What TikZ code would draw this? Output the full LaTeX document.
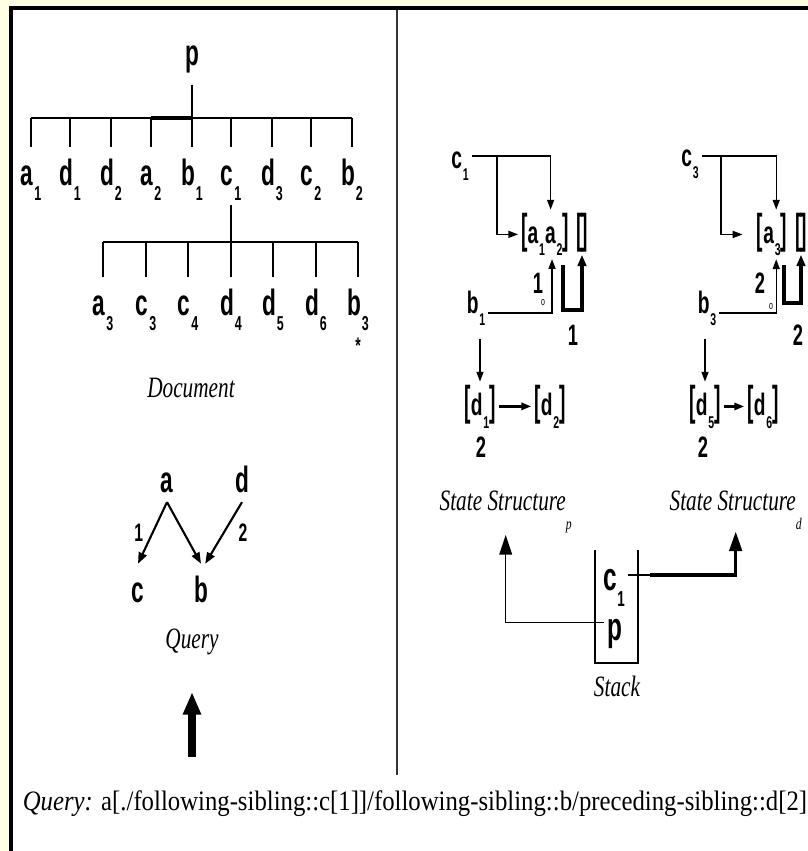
\documentclass[tikz,border=0pt]{standalone}
\usepackage{fontspec}
\usepackage{graphicx}
\usepackage{xcolor}
\definecolor{PageCream}{HTML}{FFFFE4}
\newfontfamily\narrowsans[FakeStretch=0.62]{Liberation Sans}
\newfontfamily\serifcond[FakeStretch=0.72]{Liberation Serif}
\newfontfamily\serifline[FakeStretch=0.88]{Liberation Serif}
\newcommand\sub[2]{#1\kern.6pt\raisebox{-.42em}{\scalebox{.55}{#2}}}
\newcommand\sqbl{\scalebox{1}[1.35]{[}}
\newcommand\sqbr{\scalebox{1}[1.35]{]}}
\usepackage{tikz}
\usetikzlibrary{arrows.meta,positioning,calc}

\begin{document}
\begin{tikzpicture}[
  x=0.025cm,y=-0.025cm,
  leaf/.style={font=\narrowsans\bfseries\fontsize{26}{26}\selectfont,anchor=base,text height=23pt,text depth=10pt,inner ysep=4pt,inner xsep=1pt},
  qnode/.style={leaf,text depth=3pt},
  sl/.style={font=\narrowsans\bfseries\fontsize{22}{22}\selectfont,anchor=base,inner sep=2pt},
  num/.style={font=\narrowsans\bfseries\fontsize{21}{21}\selectfont,anchor=base,inner sep=1pt},
  elbl/.style={font=\narrowsans\bfseries\fontsize{18}{18}\selectfont,inner sep=1pt},
  title/.style={font=\serifcond\itshape\fontsize{21}{21}\selectfont,anchor=base,inner sep=1pt},
  tline/.style={line width=1.2pt},
  arr/.style={-{Triangle[length=7pt,width=5pt]},line width=1pt},
  qarr/.style={-{Triangle[length=8pt,width=6pt]},line width=1.5pt},
  hookarr/.style={-{Triangle[length=8pt,width=6pt]},line width=2.4pt},
  uparr/.style={-{Triangle[length=14pt,width=9pt]}},
  bigarr/.style={-{Triangle[length=16pt,width=12pt]},line width=5.5pt}
]
  \useasboundingbox (0,0) rectangle (808,851);
  \clip (0,0) rectangle (808,851);
  \fill[PageCream] (0,0) rectangle (808,851);
  \draw[line width=2.2pt,fill=white] (11,8) rectangle (830,880);

  % document tree
  \node[leaf] (p) at (192,65) {p};
  \coordinate (top) at (192,118);
  \node[leaf] (a1) at (31,185) {\sub{a}{1}};
  \node[leaf] (d1) at (70,185) {\sub{d}{1}};
  \node[leaf] (d2) at (111,185) {\sub{d}{2}};
  \node[leaf] (a2) at (151,185) {\sub{a}{2}};
  \node[leaf] (b1) at (192,185) {\sub{b}{1}};
  \node[leaf] (c1) at (231,185) {\sub{c}{1}};
  \node[leaf] (d3) at (272,185) {\sub{d}{3}};
  \node[leaf] (c2) at (311,185) {\sub{c}{2}};
  \node[leaf] (b2) at (352,185) {\sub{b}{2}};
  \draw[tline] (p.south) -- (top);
  \draw[tline] (a1.north |- top) -- (b2.north |- top);
  \draw[line width=3pt] (a2.north |- top) -- (top);
  \draw[tline] (a1.north) -- (a1.north |- top);
  \draw[tline] (d1.north) -- (d1.north |- top);
  \draw[tline] (d2.north) -- (d2.north |- top);
  \draw[tline] (a2.north) -- (a2.north |- top);
  \draw[tline] (b1.north) -- (b1.north |- top);
  \draw[tline] (c1.north) -- (c1.north |- top);
  \draw[tline] (d3.north) -- (d3.north |- top);
  \draw[tline] (c2.north) -- (c2.north |- top);
  \draw[tline] (b2.north) -- (b2.north |- top);

  \coordinate (mid) at (231,242);
  \node[leaf] (a3) at (103,315) {\sub{a}{3}};
  \node[leaf] (c3) at (146,315) {\sub{c}{3}};
  \node[leaf] (c4) at (188,315) {\sub{c}{4}};
  \node[leaf] (d4) at (231,315) {\sub{d}{4}};
  \node[leaf] (d5) at (273,315) {\sub{d}{5}};
  \node[leaf] (d6) at (316,315) {\sub{d}{6}};
  \node[leaf] (b3) at (358,315) {\sub{b}{3}};
  \draw[tline] (c1.south) -- (mid);
  \draw[tline] (a3.north |- mid) -- (b3.north |- mid);
  \draw[tline] (a3.north) -- (a3.north |- mid);
  \draw[tline] (c3.north) -- (c3.north |- mid);
  \draw[tline] (c4.north) -- (c4.north |- mid);
  \draw[tline] (d4.north) -- (d4.north |- mid);
  \draw[tline] (d5.north) -- (d5.north |- mid);
  \draw[tline] (d6.north) -- (d6.north |- mid);
  \draw[tline] (b3.north) -- (b3.north |- mid);
  \node[font=\narrowsans\bfseries\fontsize{16}{16}\selectfont,inner sep=0pt,below=2pt of b3] (mark) {*};
  \node[title] (doc) at (191,397) {Document};

  % query graph
  \node[qnode] (qa) at (167,492) {a};
  \node[qnode] (qd) at (242,492) {d};
  \node[qnode] (qc) at (138,602) {c};
  \node[qnode] (qb) at (201,602) {b};
  \draw[qarr] (qa.south) -- node[elbl,midway,left=5pt] {1} (qc.north);
  \draw[qarr] (qa.south) -- (qb.north);
  \draw[qarr] (qd.south) -- node[elbl,midway,right=9pt] {2} ([xshift=3pt]qb.north);
  \node[title] (qlbl) at (192,648) {Query};
  \coordinate (qfoot) at (192,757);
  \coordinate (qhead) at (192,692);
  \draw[bigarr] (qfoot) -- (qhead);

  % divider
  \coordinate (divtop) at (397,10);
  \coordinate (divbot) at (397,775);
  \draw[line width=1pt,black!80] (divtop) -- (divbot);

  % state structure p
  \node[sl] (sc1) at (460,168) {\sub{c}{1}};
  \node[sl] (sa) at (545,243) {\sqbl\sub{a}{1}\sub{a}{2}\sqbr};
  \node[sl] (sae) at (582,243) {\sqbl\kern-1pt\sqbr};
  \coordinate (sj1) at (497,156);
  \draw[arr] (sc1.east |- sj1) -| ([xshift=4pt]sa.north);
  \draw[arr] (sj1) |- (sa.west);
  \node[sl] (sb1) at (476,313) {\sub{b}{1}};
  \node[num] (sn1) at (538,293) {1};
  \node[font=\narrowsans\fontsize{8}{8}\selectfont,inner sep=0pt] (so1) at (543,303) {o};
  \draw[arr] (sb1.base east) -| ([xshift=5pt]sa.south);
  \coordinate (sh1) at (563,265);
  \draw[hookarr] (sh1) -- ++(0,45) -| (sae.south);
  \node[num] (sn1b) at (573,345) {1};
  \node[sl] (sd1) at (480,415) {\sqbl\sub{d}{1}\sqbr};
  \node[sl] (sd2) at (550,415) {\sqbl\sub{d}{2}\sqbr};
  \draw[arr,shorten <=7pt] (sd1.north |- sb1.south) -- (sd1.north);
  \draw[arr,line width=2pt] (sd1) -- (sd2);
  \node[num] (sn2) at (481,457) {2};
  \node[title,anchor=base west] (ssp) at (438,510) {State Structure\raisebox{-14pt}{\scalebox{.55}{p}}};

  % state structure d
  \node[sl] (tc3) at (690,166) {\sub{c}{3}};
  \node[sl] (ta) at (772,243) {\sqbl\sub{a}{3}\sqbr};
  \node[sl] (tae) at (801,243) {\sqbl\kern-1pt\sqbr};
  \coordinate (tj1) at (721,156);
  \draw[arr] (tc3.east |- tj1) -| ([xshift=3pt]ta.north);
  \draw[arr,shorten >=8pt] (tj1) |- (ta.west);
  \node[sl] (tb3) at (707,313) {\sub{b}{3}};
  \node[num] (tn1) at (760,293) {2};
  \node[font=\narrowsans\fontsize{8}{8}\selectfont,inner sep=0pt] (to1) at (771,307) {o};
  \draw[arr] (tb3.base east) -| ([xshift=3pt]ta.south);
  \coordinate (th1) at (784,265);
  \draw[hookarr] (th1) -- ++(0,38) -| (tae.south);
  \node[num] (tn1b) at (798,345) {2};
  \node[sl] (td5) at (705,415) {\sqbl\sub{d}{5}\sqbr};
  \node[sl] (td6) at (763,415) {\sqbl\sub{d}{6}\sqbr};
  \draw[arr,shorten <=7pt] (td5.north |- tb3.south) -- (td5.north);
  \draw[arr,line width=2pt] (td5) -- (td6);
  \node[num] (tn2) at (703,457) {2};
  \node[title,anchor=base west] (ssd) at (668,510) {State Structure\raisebox{-14pt}{\scalebox{.55}{d}}};

  % stack
  \node[font=\narrowsans\bfseries\fontsize{28}{28}\selectfont,anchor=base,inner sep=2pt] (kc1) at (614,590) {\sub{c}{1}};
  \node[font=\narrowsans\bfseries\fontsize{28}{28}\selectfont,anchor=base,inner sep=2pt] (kp) at (615,640) {p};
  \coordinate (kl) at (595,550);
  \coordinate (kr) at (638,550);
  \coordinate (kbot) at (617,663);
  \draw[line width=2pt] (kl) -- (kl |- kbot) -- (kr |- kbot) -- (kr);
  \node[title] (stk) at (617,696) {Stack};
  \coordinate (kout) at (650,575);
  \draw[line width=1pt] (kc1.east |- kout) -- (kout);
  \draw[uparr,line width=2.2pt] (kout) -| (ssd.south);
  \draw[uparr,line width=1pt] ([yshift=8pt]kp.west) -| (ssp.south);

  % query text
  \node[font=\serifline\fontsize{20}{20}\selectfont,anchor=base] (qtext) at (415,810) {\textit{Query:} a[./following-sibling::c[1]]/following-sibling::b/preceding-sibling::d[2]};
\end{tikzpicture}
\end{document}
